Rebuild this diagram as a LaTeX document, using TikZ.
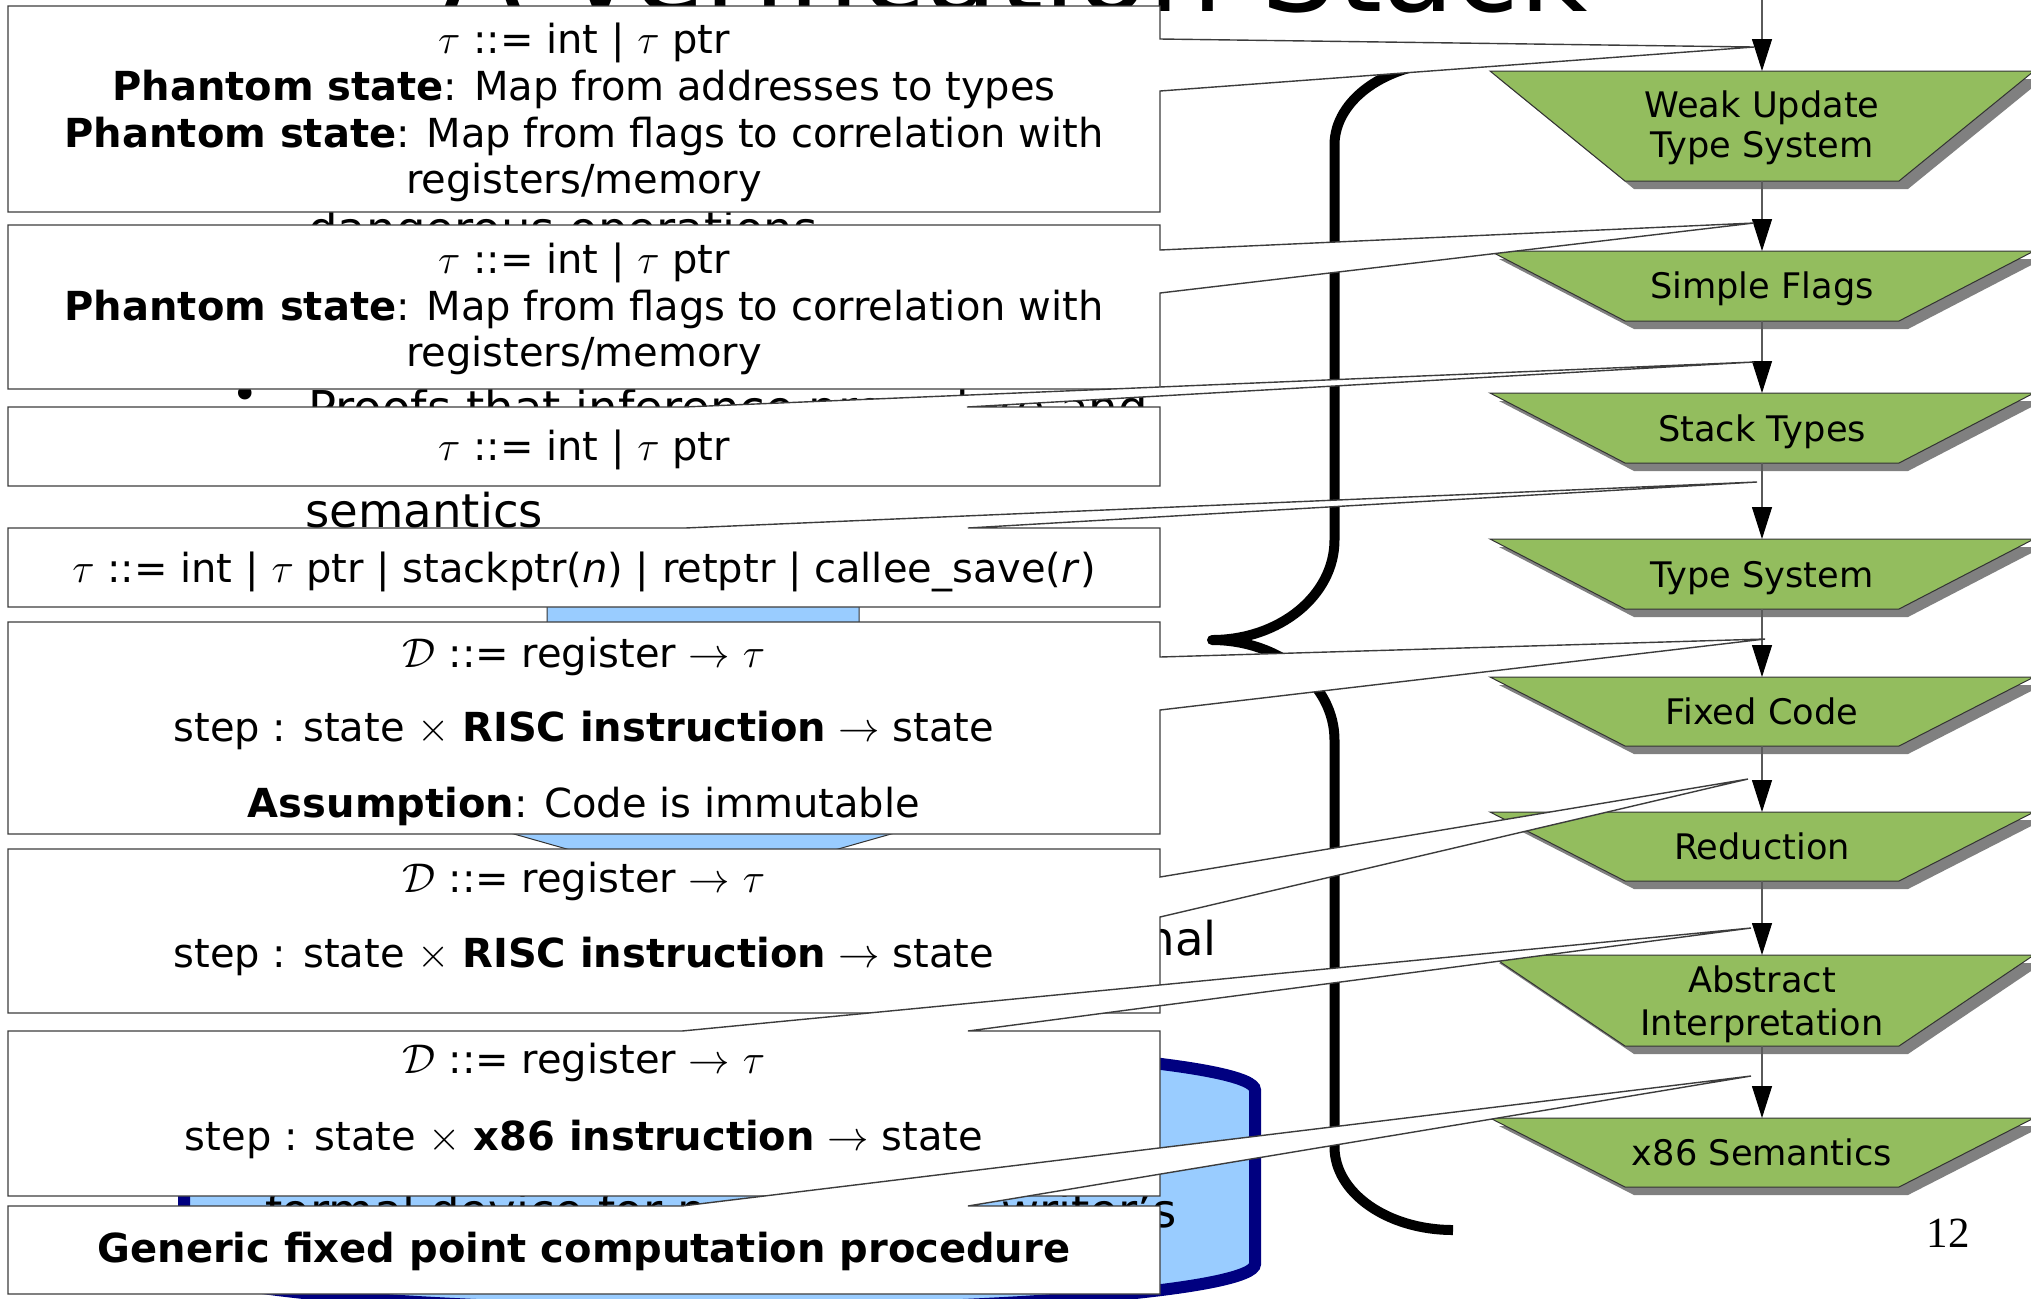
\documentclass[tikz,border=0pt]{standalone}
\usepackage{fontspec}
\setmainfont{DejaVu Sans}
\newfontfamily\numfont{Liberation Serif}
\usetikzlibrary{arrows.meta}
\definecolor{trapgreen}{RGB}{147,189,94}
\definecolor{trapshadow}{RGB}{128,128,128}
\definecolor{lightblue}{RGB}{153,204,255}
\definecolor{cylnavy}{RGB}{0,0,128}
\definecolor{edgegray}{RGB}{60,60,60}
\definecolor{flowgray}{RGB}{90,90,90}
\tikzset{
  callout/.style={fill=white, draw=edgegray, line width=0.7pt, line join=miter},
  cltext/.style={anchor=base, font=\fontsize{20}{24}\selectfont, inner sep=0pt},
  trap/.style={fill=trapgreen, draw=black!80, line width=0.5pt},
  trapshade/.style={fill=trapshadow, draw=none},
  traptext/.style={anchor=base, font=\fontsize{17.6}{21}\selectfont, inner sep=0pt},
  flow/.style={draw=flowgray, line width=0.6pt, -{Triangle[length=16pt,width=10pt,color=black]}},
  bgtext/.style={font=\fontsize{23.3}{28}\selectfont, inner sep=0pt},
}
\begin{document}
\begin{tikzpicture}[x=0.5pt,y=-0.5pt]
\useasboundingbox (0,0) rectangle (2031,1298);
\clip (0,0) rectangle (2031,1298);
\fill[white] (0,0) rectangle (2031,1298);

% ---------- background slide content ----------
\node[anchor=base west, inner sep=0pt, font=\fontsize{59}{70}\selectfont] (title) at (442,11) {A Verification Stack};
\node[bgtext, anchor=base west] (bl1) at (308,245) {dangerous operations};
\node[bgtext, anchor=center] (bul) at (245,398) {•};
\node[bgtext, anchor=base west] (bl2) at (308,424) {Proofs that inference procedure and};
\node[bgtext, anchor=base west] (bl3) at (305,527) {semantics};
\node[bgtext, anchor=base east] (bl4) at (1217,955) {nal};

% blue arrow shape
\path[draw=black!80, line width=0.5pt, fill=lightblue]
  (547,545) -- (859,545) -- (859,815) -- (958,815) -- (702.5,887.5) -- (447,815) -- (547,815) -- cycle;

% cylinder
\path[draw=cylnavy, line width=6pt, fill=lightblue]
  (184,1090) -- (184,1264)
  .. controls (184,1289.4) and (423.7,1310) .. (719.5,1310)
  .. controls (1015.3,1310) and (1255,1289.4) .. (1255,1264)
  -- (1255,1090)
  .. controls (1255,1064.6) and (1015.3,1044) .. (719.5,1044)
  .. controls (423.7,1044) and (184,1064.6) .. (184,1090) -- cycle;
\node[bgtext, anchor=base west] (cyl1) at (265,1227) {formal device for p};
\node[bgtext, anchor=base east] (cyl2) at (1177,1227) {writer's};

% brace
\draw[line width=5pt, line join=round, line cap=butt]
  (1453,62) .. controls (1387.6,62) and (1334.5,99.2) .. (1334.5,145)
  -- (1334.5,540) .. controls (1334.5,595.2) and (1279.7,640) .. (1212,640)
  .. controls (1279.7,640) and (1334.5,684.8) .. (1334.5,740)
  -- (1334.5,1147) .. controls (1334.5,1192.8) and (1387.6,1230) .. (1453,1230);

\node[anchor=base east, inner sep=0pt, font=\numfont\fontsize{21.5}{26}\selectfont] (pgno) at (1970,1247) {12};

% ---------- flow chart ----------
\coordinate (src) at (1762,0);
\foreach \nm/\t/\b in {wu/71/181, sf/251/321, st/393/463, ts/539/609, fc/677/746, rd/812/881, ai/955/1046, xs/1118/1187}{
  \fill[trapshade] (1499,\t+8) -- (2043,\t+8) -- (1908,\b+8) -- (1634,\b+8) -- cycle;
  \path[trap] (1490,\t) -- (2034,\t) -- (1899,\b) -- (1625,\b) -- cycle;
  \coordinate (\nm-n) at (1762,\t);
  \coordinate (\nm-s) at (1762,\b);
}
\node[traptext] (wuA) at (1762,117) {Weak Update};
\node[traptext] (wuB) at (1762,157) {Type System};
\node[traptext] (sfA) at (1762,298) {Simple Flags};
\node[traptext] (stA) at (1762,441) {Stack Types};
\node[traptext] (tsA) at (1762,587) {Type System};
\node[traptext] (fcA) at (1762,724) {Fixed Code};
\node[traptext] (rdA) at (1762,859) {Reduction};
\node[traptext] (aiA) at (1762,992) {Abstract};
\node[traptext] (aiB) at (1762,1035) {Interpretation};
\node[traptext] (xsA) at (1762,1165) {x86 Semantics};

\draw[flow] (src) -- (wu-n);
\draw[flow] (wu-s) -- (sf-n);
\draw[flow] (sf-s) -- (st-n);
\draw[flow] (st-s) -- (ts-n);
\draw[flow] (ts-s) -- (fc-n);
\draw[flow] (fc-s) -- (rd-n);
\draw[flow] (rd-s) -- (ai-n);
\draw[flow] (ai-s) -- (xs-n);

% ---------- callouts ----------
\coordinate (T1) at (1754,47);
\coordinate (T2) at (1754,223);
\coordinate (T3) at (1754,362);
\coordinate (T4) at (1757,482);
\coordinate (T5) at (1765,639);
\coordinate (T6) at (1748,779);
\coordinate (T7) at (1751,928);
\coordinate (T8) at (1751,1076);

% 1
\path[callout] (8,6) -- (1160,6) -- (1160,39) -- (T1) -- (1160,91) -- (1160,212) -- (8,212) -- cycle;
\node[cltext] (c1a) at (584,53) {$\tau$ ::= int | $\tau$ ptr};
\node[cltext] (c1b) at (584,100) {\textbf{Phantom state}: Map from addresses to types};
\node[cltext] (c1c) at (584,147) {\textbf{Phantom state}: Map from flags to correlation with};
\node[cltext] (c1d) at (584,193) {registers/memory};
% 2
\path[callout] (8,225) -- (1160,225) -- (1160,250) -- (T2) -- (1160,293) -- (1160,389) -- (8,389) -- cycle;
\node[cltext] (c2a) at (584,273) {$\tau$ ::= int | $\tau$ ptr};
\node[cltext] (c2b) at (584,320) {\textbf{Phantom state}: Map from flags to correlation with};
\node[cltext] (c2c) at (584,366) {registers/memory};
% 3
\path[callout] (8,407) -- (684,407) -- (T3) -- (967,407) -- (1160,407) -- (1160,486) -- (8,486) -- cycle;
\node[cltext] (c3a) at (584,460) {$\tau$ ::= int | $\tau$ ptr};
% 4
\path[callout] (8,528) -- (685,528) -- (T4) -- (968,528) -- (1160,528) -- (1160,607) -- (8,607) -- cycle;
\node[cltext] (c4a) at (584,582) {$\tau$ ::= int | $\tau$ ptr | stackptr(\textit{n}) | retptr | callee\_save(\textit{r})};
% 5
\path[callout] (8,622) -- (1160,622) -- (1160,657) -- (T5) -- (1160,710) -- (1160,834) -- (8,834) -- cycle;
\node[cltext] (c5a) at (584,667) {$\mathcal{D}$ ::= register $\rightarrow$ $\tau$};
\node[cltext] (c5b) at (584,741) {step : state $\times$ \textbf{RISC instruction} $\rightarrow$ state};
\node[cltext] (c5c) at (584,817) {\textbf{Assumption}: Code is immutable};
% 6
\path[callout] (8,849) -- (1160,849) -- (1160,877) -- (T6) -- (1160,917) -- (1160,1013) -- (8,1013) -- cycle;
\node[cltext] (c6a) at (584,892) {$\mathcal{D}$ ::= register $\rightarrow$ $\tau$};
\node[cltext] (c6b) at (584,967) {step : state $\times$ \textbf{RISC instruction} $\rightarrow$ state};
% 7
\path[callout] (8,1031) -- (682,1031) -- (T7) -- (968,1031) -- (1160,1031) -- (1160,1196) -- (8,1196) -- cycle;
\node[cltext] (c7a) at (584,1073) {$\mathcal{D}$ ::= register $\rightarrow$ $\tau$};
\node[cltext] (c7b) at (584,1150) {step : state $\times$ \textbf{x86 instruction} $\rightarrow$ state};
% 8
\path[callout] (8,1206) -- (682,1206) -- (T8) -- (968,1206) -- (1160,1206) -- (1160,1294) -- (8,1294) -- cycle;
\node[cltext] (c8a) at (584,1262) {\textbf{Generic fixed point computation procedure}};
\end{tikzpicture}
\end{document}
